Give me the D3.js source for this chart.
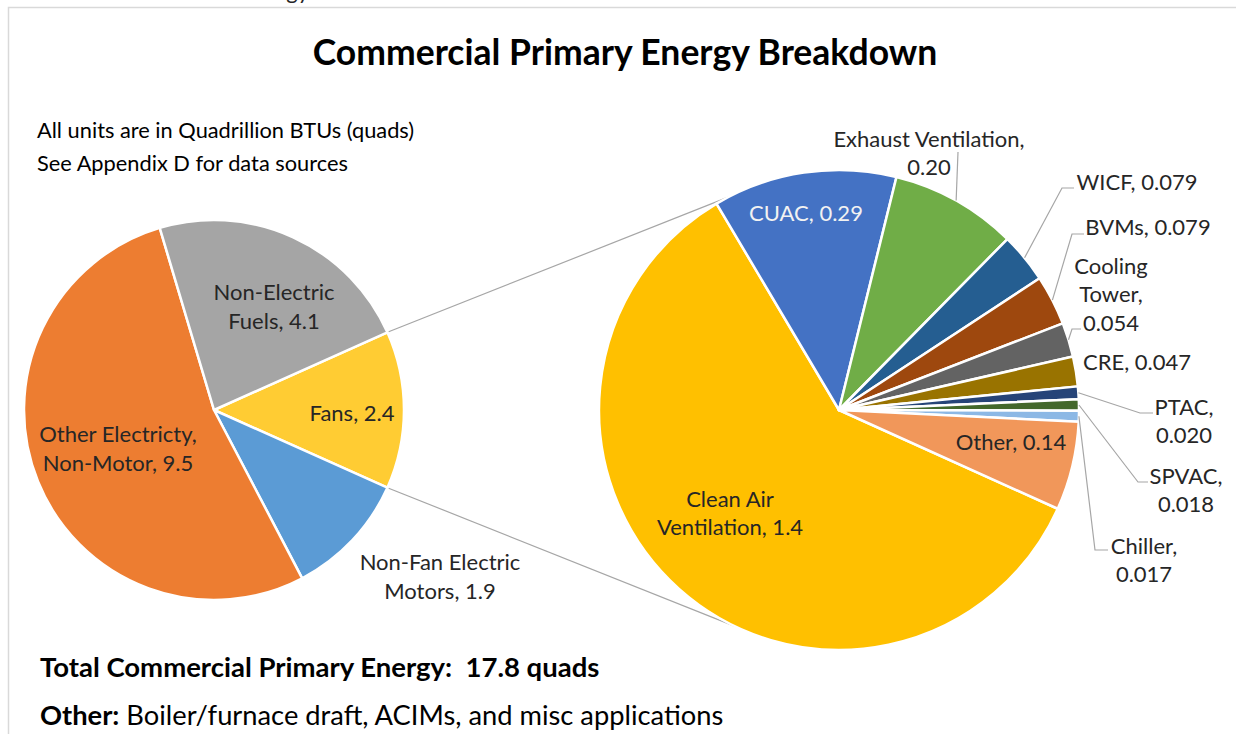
<!DOCTYPE html>
<html>
<head>
<meta charset="utf-8">
<script src="https://cdn.jsdelivr.net/npm/d3@7"></script>
<style>
  body { margin: 0; background: #fff; }
  text { font-family: Lato, "Open Sans", sans-serif; fill: #262626; }
</style>
</head>
<body>
<div id="chart"></div>
<script>
var width = 1236;
var height = 734;

// main pie, quads
var mainLabels = ["Fans", "Non-Fan Electric Motors", "Other Electricty, Non-Motor", "Non-Electric Fuels"];
var mainValues = [2.4, 1.9, 9.5, 4.1];
var mainColors = ["#ffcc33", "#5b9bd5", "#ed7d31", "#a5a5a5"];

// fans broken down, quads
var fanLabels = ["Clean Air Ventilation", "CUAC", "Exhaust Ventilation", "WICF", "BVMs",
                 "Cooling Tower", "CRE", "PTAC", "SPVAC", "Chiller", "Other"];
var fanValues = [1.4, 0.29, 0.20, 0.079, 0.079, 0.054, 0.047, 0.020, 0.018, 0.017, 0.14];
var fanColors = ["#ffc000", "#4472c4", "#70ad47", "#255e91", "#9e480e",
                 "#636363", "#997300", "#264478", "#43682b", "#8cb8e5", "#f1975a"];

var fmt = d3.format(".2r");
var rad = Math.PI / 180;

var svg = d3.select("#chart")
            .append("svg")
            .attr("width", width)
            .attr("height", height);

// chart area border (runs off the right and bottom)
svg.append("rect")
   .attr("x", 8.5).attr("y", 7.5)
   .attr("width", 1300).attr("height", 800)
   .attr("fill", "none")
   .attr("stroke", "#d9d9d9")
   .attr("stroke-width", 1.5);

// bit of the caption above, cut off by the crop
svg.append("text")
   .attr("x", 309).attr("y", -1)
   .attr("text-anchor", "end")
   .style("font-size", "22px")
   .text("Energy");

svg.append("text")
   .attr("x", 625).attr("y", 65)
   .attr("text-anchor", "middle")
   .style("font-size", "35.5px")
   .style("font-weight", "bold")
   .style("fill", "#000")
   .text("Commercial Primary Energy Breakdown");

svg.append("text").attr("x", 37).attr("y", 138).style("font-size", "21.8px").style("fill", "#000")
   .text("All units are in Quadrillion BTUs (quads)");
svg.append("text").attr("x", 37).attr("y", 171).style("font-size", "21.8px").style("fill", "#000")
   .text("See Appendix D for data sources");

// ---- pies ----
var left = { cx: 214, cy: 410, r: 190 };
var right = { cx: 839, cy: 410, r: 240 };

var mainTotal = d3.sum(mainValues);
var fanShare = mainValues[0] / mainTotal * 2 * Math.PI;

var mainPie = d3.pie().sort(null)
                .startAngle(Math.PI / 2 - fanShare / 2)
                .endAngle(Math.PI / 2 - fanShare / 2 + 2 * Math.PI);
var fanPie = d3.pie().sort(null)
               .startAngle(114.3 * rad)
               .endAngle(114.3 * rad + 2 * Math.PI);

var mainArcs = mainPie(mainValues);
var fanArcs = fanPie(fanValues);

function polar(p, a, r) {
        return [p.cx + r * Math.sin(a), p.cy - r * Math.cos(a)];
}

// connector lines between the Fans slice and the second pie
var fanSlice = mainArcs[0];
var connectors = [
        [polar(left, fanSlice.startAngle, left.r), polar(right, 332.5 * rad, right.r)],
        [polar(left, fanSlice.endAngle, left.r), polar(right, 205.5 * rad, right.r)]
];
svg.selectAll(".conn")
   .data(connectors)
   .enter().append("line")
   .attr("x1", d => d[0][0]).attr("y1", d => d[0][1])
   .attr("x2", d => d[1][0]).attr("y2", d => d[1][1])
   .attr("stroke", "#a6a6a6")
   .attr("stroke-width", 1.2);

function drawPie(p, arcs, colors) {
        var arc = d3.arc().innerRadius(0).outerRadius(p.r);
        svg.append("g")
           .attr("transform", "translate(" + p.cx + "," + p.cy + ")")
           .selectAll("path")
           .data(arcs)
           .enter().append("path")
           .attr("d", arc)
           .attr("fill", (d, i) => colors[i])
           .attr("stroke", "#fff")
           .attr("stroke-width", 2.5)
           .attr("stroke-linejoin", "round");
}
drawPie(left, mainArcs, mainColors);
drawPie(right, fanArcs, fanColors);

// ---- data labels ----
// breaks = words per line, y = centre of first line, lead = leader points after the slice edge
var mainLayout = [
        { x: 352, y: 413, breaks: [2] },
        { x: 440, y: 562, breaks: [2, 2] },
        { x: 118, y: 434, breaks: [2, 2] },
        { x: 274, y: 292, breaks: [1, 2] }
];
var fanLayout = [
        { x: 730, y: 499, breaks: [2, 2] },
        { x: 806, y: 213, breaks: [2], color: "#f2f2f2" },
        { x: 929, y: 139, breaks: [2, 1], lead: [[958, 152]] },
        { x: 1137, y: 182, breaks: [2], lead: [[1062, 188], [1074, 188]] },
        { x: 1148, y: 227, breaks: [2], lead: [[1072, 234], [1084, 234]] },
        { x: 1111, y: 266, breaks: [1, 1, 1], lead: [[1072, 329], [1081, 329]] },
        { x: 1137, y: 362, breaks: [2] },
        { x: 1184, y: 407, breaks: [1, 1], lead: [[1140, 413], [1153, 413]] },
        { x: 1186, y: 476, breaks: [1, 1], lead: [[1138, 482], [1148, 482]] },
        { x: 1144, y: 546, breaks: [1, 1], lead: [[1095, 550], [1108, 550]] },
        { x: 1011, y: 442, breaks: [2] }
];

function drawLabels(p, arcs, labels, values, layout, size, lh) {
        var g = svg.append("g");
        arcs.forEach(function(a, i) {
                var L = layout[i];
                if (L.lead) {
                        var mid = (a.startAngle + a.endAngle) / 2;
                        var pts = [polar(p, mid, p.r)].concat(L.lead);
                        g.append("path")
                         .attr("d", d3.line()(pts))
                         .attr("fill", "none")
                         .attr("stroke", "#a6a6a6")
                         .attr("stroke-width", 1.2);
                }
                var words = (labels[i] + ", " + fmt(values[i])).split(" ");
                var lines = [], k = 0;
                L.breaks.forEach(function(n) {
                        lines.push(words.slice(k, k + n).join(" "));
                        k += n;
                });
                var t = g.append("text")
                         .attr("text-anchor", "middle")
                         .style("font-size", size + "px");
                if (L.color) t.style("fill", L.color);
                lines.forEach(function(s, j) {
                        t.append("tspan")
                         .attr("x", L.x)
                         .attr("y", L.y + j * lh + size * 0.35)
                         .text(s);
                });
        });
}
drawLabels(left, mainArcs, mainLabels, mainValues, mainLayout, 22, 29);
drawLabels(right, fanArcs, fanLabels, fanValues, fanLayout, 22, 28.5);

// ---- footnotes ----
svg.append("text").attr("x", 40).attr("y", 677)
   .style("font-size", "27.5px").style("font-weight", "bold").style("fill", "#000")
   .style("white-space", "pre")
   .text("Total Commercial Primary Energy:  17.8 quads");

var note = svg.append("text").attr("x", 40).attr("y", 725)
              .style("font-size", "27.3px").style("fill", "#000");
note.append("tspan").style("font-weight", "bold").text("Other:");
note.append("tspan").text(" Boiler/furnace draft, ACIMs, and misc applications");
</script>
</body>
</html>
